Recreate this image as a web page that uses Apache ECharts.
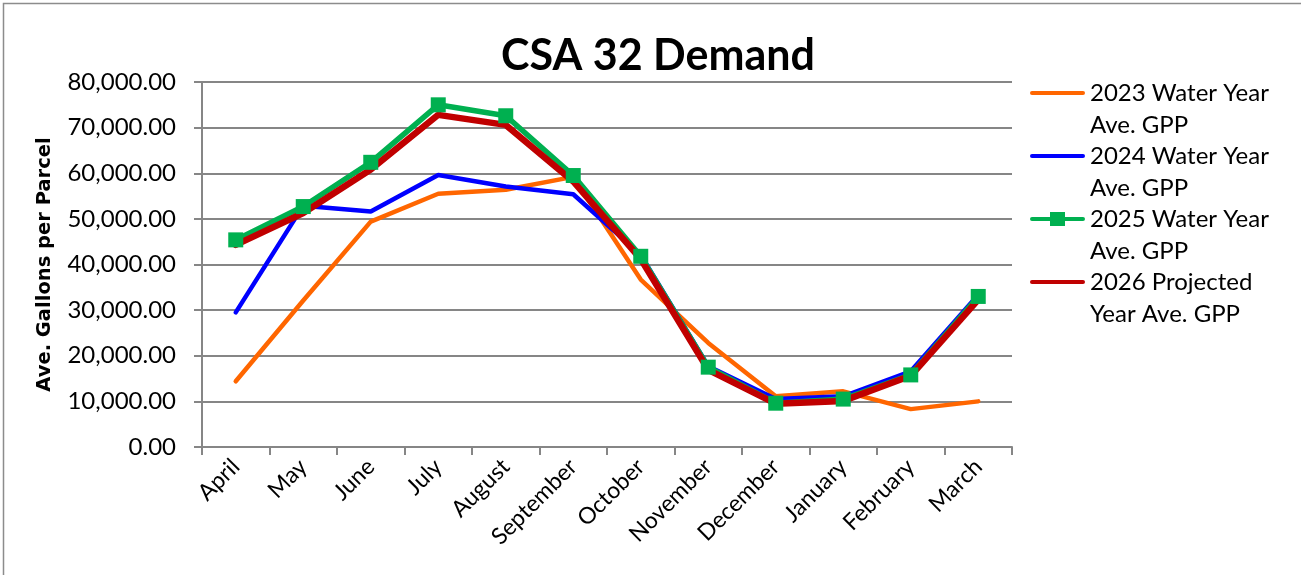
<!DOCTYPE html>
<html lang="en">
<head>
    <meta charset="UTF-8">
    <title>CSA 32 Demand</title>
    <style>
        body {
            margin: 0;
            background-color: #fff;
        }

        #chart {
            width: 1301px;
            height: 575px;
        }
    </style>
</head>
<body>

    <div id="chart"></div>

    <script src="https://cdn.jsdelivr.net/npm/echarts@6/dist/echarts.min.js"></script>
    <script>

        // months of the water year
        const months = ['April', 'May', 'June', 'July', 'August', 'September',
            'October', 'November', 'December', 'January', 'February', 'March'];

        // average gallons per parcel
        const wy2023 = [14400, 32100, 49400, 55500, 56400, 59200, 36700, 22800, 11100, 12200, 8300, 10000];
        const wy2024 = [29500, 52900, 51600, 59600, 57100, 55400, 42100, 17700, 10500, 11100, 16600, 33400];
        const wy2025 = [45400, 52700, 62400, 75000, 72600, 59500, 41800, 17500, 9600, 10500, 15800, 33000];
        const proj2026 = [44300, 51300, 60800, 72800, 70600, 58200, 41200, 16900, 9500, 10100, 15600, 32300];

        const seriesNames = [
            '2023 Water Year\nAve. GPP',
            '2024 Water Year\nAve. GPP',
            '2025 Water Year\nAve. GPP',
            '2026 Projected\nYear Ave. GPP',
        ];

        const chart = echarts.init(document.getElementById('chart'));

        const font = 'Lato, "Open Sans", sans-serif';

        // legend icons: plain bar, and bar with square for the 2025 series
        const lineIcon = 'path://M2,5 H53 A2,2 0 0 1 53,9 H2 A2,2 0 0 1 2,5 Z';
        const squareIcon = 'path://M2,5 H20 V0 H35 V5 H53 A2,2 0 0 1 53,9 H35 V14 H20 V9 H2 A2,2 0 0 1 2,5 Z';

        const option = {
            animation: false,
            textStyle: { fontFamily: font },
            title: {
                text: 'CSA 32 Demand',
                left: 653,
                textAlign: 'center',
                top: 30,
                textStyle: {
                    fontFamily: font,
                    fontSize: 43,
                    fontWeight: 'bold',
                    color: '#000',
                },
            },
            graphic: [{
                type: 'rect',
                shape: { x: 3.5, y: 3.5, width: 1400, height: 700 },
                style: { fill: 'none', stroke: '#8c8c8c', lineWidth: 1.5 },
                silent: true,
            }],
            legend: {
                orient: 'vertical',
                left: 1030,
                top: 45,
                padding: 0,
                itemWidth: 55,
                itemHeight: 14,
                itemGap: -33,
                symbolKeepAspect: true,
                // leading empty line keeps the icon level with the first text line
                formatter: name => '\n' + name,
                textStyle: {
                    fontFamily: font,
                    fontSize: 24,
                    color: '#000',
                    lineHeight: 32,
                },
                data: [
                    { name: seriesNames[0], icon: lineIcon },
                    { name: seriesNames[1], icon: lineIcon },
                    { name: seriesNames[2], icon: squareIcon },
                    { name: seriesNames[3], icon: lineIcon },
                ],
            },
            grid: {
                left: 202,
                right: 289,
                top: 82,
                bottom: 128,
                containLabel: false,
            },
            xAxis: {
                type: 'category',
                data: months,
                boundaryGap: true,
                axisLine: { lineStyle: { color: '#868686', width: 2 } },
                axisTick: { show: true, length: 8, lineStyle: { color: '#868686', width: 2 } },
                axisLabel: {
                    rotate: 45,
                    margin: 16,
                    color: '#000',
                    fontSize: 23,
                    fontFamily: font,
                },
            },
            yAxis: {
                type: 'value',
                min: 0,
                max: 80000,
                interval: 10000,
                name: 'Ave. Gallons per Parcel',
                nameLocation: 'middle',
                nameGap: 147,
                nameRotate: 90,
                nameTextStyle: {
                    fontFamily: '"DejaVu Sans", Verdana, sans-serif',
                    fontWeight: 'bold',
                    fontSize: 19.5,
                    color: '#000',
                },
                axisLine: { show: true, lineStyle: { color: '#868686', width: 2 } },
                axisTick: { show: true, length: 8, lineStyle: { color: '#868686', width: 2 } },
                axisLabel: {
                    margin: 26,
                    color: '#000',
                    fontSize: 24,
                    fontFamily: font,
                    formatter: v => v.toLocaleString('en-US', { minimumFractionDigits: 2, maximumFractionDigits: 2 }),
                },
                splitLine: { lineStyle: { color: '#868686', width: 2 } },
            },
            series: [
                {
                    name: seriesNames[0],
                    type: 'line',
                    data: wy2023,
                    symbol: 'none',
                    color: '#ff6600',
                    lineStyle: { width: 4.5, color: '#ff6600', cap: 'round' },
                },
                {
                    name: seriesNames[1],
                    type: 'line',
                    data: wy2024,
                    symbol: 'none',
                    color: '#0000ff',
                    lineStyle: { width: 4.5, color: '#0000ff', cap: 'round' },
                },
                {
                    name: seriesNames[2],
                    type: 'line',
                    data: wy2025,
                    symbol: 'rect',
                    symbolSize: 15,
                    color: '#00b050',
                    itemStyle: { color: '#00b050' },
                    lineStyle: { width: 5.5, color: '#00b050' },
                },
                {
                    name: seriesNames[3],
                    type: 'line',
                    data: proj2026,
                    symbol: 'none',
                    color: '#c00000',
                    lineStyle: { width: 6.5, color: '#c00000', cap: 'round' },
                },
            ],
        };

        chart.setOption(option);

    </script>
</body>
</html>
